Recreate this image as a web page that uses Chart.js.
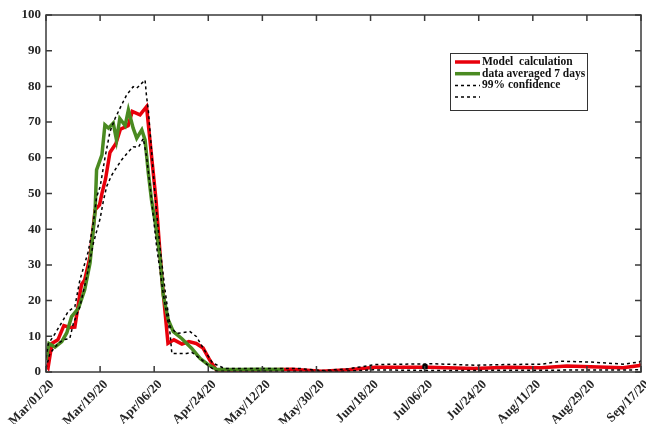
<!DOCTYPE html>
<html>
<head>
<meta charset="utf-8">
<script src="https://cdn.jsdelivr.net/npm/chart.js@4"></script>
<style>
  html, body { margin: 0; padding: 0; background: #fff; }
  #wrap { width: 646px; height: 424px; }
</style>
</head>
<body>
<div id="wrap"><canvas id="chart"></canvas></div>
<script>
// days since Mar/01/20
const tickLabels = ['Mar/01/20', 'Mar/19/20', 'Apr/06/20', 'Apr/24/20', 'May/12/20', 'May/30/20',
  'Jun/18/20', 'Jul/06/20', 'Jul/24/20', 'Aug/11/20', 'Aug/29/20', 'Sep/17/20'];
const totalDays = 200;

const modelDays = [0, 0.7, 2, 4, 6, 8, 9.7, 11.4, 12, 13, 14.8, 16.5, 18, 18.8, 20, 21.5, 23.5, 25, 27.6, 29, 31.6, 33.8,
  37, 39, 41, 43, 45.7, 48, 50.5, 52.8, 55, 57.4, 70, 82.6, 92.7, 101.7, 110.7, 128.6, 144, 155, 166.6, 175, 183, 194, 199.5, 200];
const modelVals = [2, 1.2, 8, 9, 13, 12.5, 12.6, 22, 24.6, 25.8, 32.3, 45.4, 46.8, 50, 54, 61.5, 64, 68, 69, 73, 72, 74.3,
  48, 25.8, 8, 9, 7.8, 8.5, 8, 6.7, 3.4, 0.4, 0.5, 0.75, 0.2, 0.6, 1.3, 1.3, 1.0, 1.3, 1.2, 1.7, 1.5, 1.2, 1.8, 2.3];

const dataDays = [0, 1, 3, 5.3, 7, 8.6, 10.9, 13, 14.8, 16.5, 17, 18.8, 19.8, 21, 22.6, 23.7, 24.8, 26.6, 27.7, 29.3,
  30.5, 32.2, 33.3, 34.4, 35.5, 36.6, 38.3, 39.4, 41.1, 42.8, 45.6, 49, 51.8, 54.6, 57.4, 65, 72, 80];
const dataVals = [3.4, 8, 7, 8.5, 11, 15.5, 17.8, 23, 30.5, 45, 56.6, 60.8, 69.2, 68.3, 69.7, 65, 71, 69, 73.4, 68.3,
  65.5, 67.8, 65, 55.7, 48, 42.6, 32.3, 21.6, 14.6, 11.3, 9.4, 6.6, 3.8, 2, 0.7, 0.7, 0.8, 0.7];

const upperDays = [0, 0.8, 2.5, 5.8, 7.5, 9.7, 11.4, 14.2, 15.9, 17, 18.2, 19.8, 21.5, 23.2, 25.4, 27.1, 29.3, 30.5, 33.3,
  33.8, 34.4, 36.6, 38.3, 40, 41.7, 43.9, 48.4, 50.6, 52.8, 56, 60, 75, 85, 92.7, 101.7, 110.7, 130.7, 144, 155, 166.6,
  173, 183, 194, 199.5, 200];
const upperVals = [4, 8, 10, 14.6, 17, 18.3, 25.8, 33.7, 41.7, 49, 51.9, 59.9, 67.3, 71, 74.8, 77.6, 79.9, 79.5, 81.8,
  77.1, 73.4, 50, 35, 23, 12.7, 10.8, 11.3, 9.9, 6.7, 2.5, 1, 1, 1, 0.4, 0.9, 2.1, 2.3, 1.9, 2.1, 2.2,
  3, 2.8, 2.2, 2.8, 3.2];

const lowerDays = [0, 1.3, 4.1, 5.8, 8, 9.2, 11.4, 13.7, 15.9, 18.2, 19.3, 20.4, 22, 23.2, 25.4, 27.7, 29.3, 31.1, 32.7,
  33.8, 35, 35.5, 37.2, 39.4, 41.7, 42.3, 47.3, 49, 51.8, 55, 57.4, 100, 110, 130, 199.5, 200];
const lowerVals = [1, 5.2, 8, 9, 9.4, 13.6, 18.3, 26.7, 36, 43, 48, 52, 55, 56.6, 59.4, 61.7, 63.1, 63, 65.4,
  60.3, 51.9, 48, 35, 22, 10.8, 5.2, 5.2, 5.5, 3.8, 1.5, 0.2, 0.2, 0.6, 0.4, 0.6, 1];

const markDays = [127.4];
const markVals = [1.5];

const pts = (xs, ys) => xs.map((x, i) => ({x: x, y: ys[i]}));
const serif = '"Liberation Serif", "Times New Roman", serif';

const framePlugin = {
  id: 'frame',
  afterDraw(chart) {
    const {ctx, chartArea: a, scales} = chart;
    ctx.save();
    ctx.strokeStyle = '#3a3a3a';
    ctx.lineWidth = 1.5;
    ctx.strokeRect(a.left, a.top, a.right - a.left, a.bottom - a.top);
    ctx.beginPath();
    scales.x.ticks.forEach(t => {
      const px = scales.x.getPixelForValue(t.value);
      ctx.moveTo(px, a.bottom); ctx.lineTo(px, a.bottom - 6);
      ctx.moveTo(px, a.top); ctx.lineTo(px, a.top + 6);
    });
    scales.y.ticks.forEach(t => {
      const py = scales.y.getPixelForValue(t.value);
      ctx.moveTo(a.left, py); ctx.lineTo(a.left + 6, py);
      ctx.moveTo(a.right, py); ctx.lineTo(a.right - 6, py);
    });
    ctx.stroke();

    // legend box
    const bx = 450, by = 53, bw = 137, bh = 57;
    ctx.fillStyle = '#fff';
    ctx.fillRect(bx, by, bw, bh);
    ctx.lineWidth = 1;
    ctx.strokeStyle = '#333';
    ctx.strokeRect(bx + 0.5, by + 0.5, bw, bh);
    ctx.font = 'bold 11.5px ' + serif;
    ctx.textBaseline = 'middle';
    [0, 1, 2, 3].forEach((idx, row) => {
      const ds = chart.data.datasets[idx];
      const y = by + 9 + row * 11.7;
      ctx.beginPath();
      ctx.strokeStyle = ds.borderColor;
      ctx.lineWidth = ds.borderWidth;
      ctx.setLineDash(ds.borderDash || []);
      ctx.moveTo(bx + 5, y); ctx.lineTo(bx + 30, y);
      ctx.stroke();
      ctx.setLineDash([]);
      ctx.fillStyle = '#111';
      ctx.fillText(ds.label, bx + 32, y);
    });
    ctx.restore();
  }
};

new Chart(document.getElementById('chart'), {
  type: 'line',
  data: {
    datasets: [
      {label: 'Model  calculation', data: pts(modelDays, modelVals), borderColor: '#e8000b', borderWidth: 3.5, order: 3},
      {label: 'data averaged 7 days', data: pts(dataDays, dataVals), borderColor: '#4a8a21', borderWidth: 3.5, order: 2},
      {label: '99% confidence', data: pts(upperDays, upperVals), borderColor: '#000', borderWidth: 1.5, borderDash: [3, 3], order: 1},
      {label: '', data: pts(lowerDays, lowerVals), borderColor: '#000', borderWidth: 1.5, borderDash: [3, 3], order: 1},
      {label: 'mark', data: pts(markDays, markVals), showLine: false, pointStyle: 'rect', pointRadius: 3,
        pointBackgroundColor: '#000', pointBorderColor: '#000', borderColor: '#000', order: 0}
    ]
  },
  options: {
    responsive: true,
    maintainAspectRatio: false,
    animation: false,
    layout: {padding: {top: 15, right: 5, left: 0, bottom: 0}},
    elements: {point: {radius: 0}, line: {tension: 0}},
    plugins: {legend: {display: false}, tooltip: {enabled: false}},
    scales: {
      x: {
        type: 'linear',
        min: 0,
        max: totalDays,
        afterBuildTicks: s => { s.ticks = tickLabels.map((_, i) => ({value: i * totalDays / 11})); },
        afterFit: s => { s.height = 52; s.paddingLeft = 0; s.paddingRight = 0; },
        grid: {display: false, drawTicks: false},
        border: {display: false},
        ticks: {
          autoSkip: false,
          maxRotation: 45,
          minRotation: 45,
          padding: 5,
          labelOffset: 6,
          color: '#262626',
          font: {family: serif, size: 13, weight: 'bold'},
          callback: (v, i) => tickLabels[i]
        }
      },
      y: {
        min: 0,
        max: 100,
        afterFit: s => { s.width = 46; s.paddingTop = 0; s.paddingBottom = 0; },
        grid: {display: false, drawTicks: false},
        border: {display: false},
        ticks: {
          stepSize: 10,
          padding: 5,
          color: '#262626',
          font: {family: serif, size: 13, weight: 'bold'}
        }
      }
    }
  },
  plugins: [framePlugin]
});
</script>
</body>
</html>
